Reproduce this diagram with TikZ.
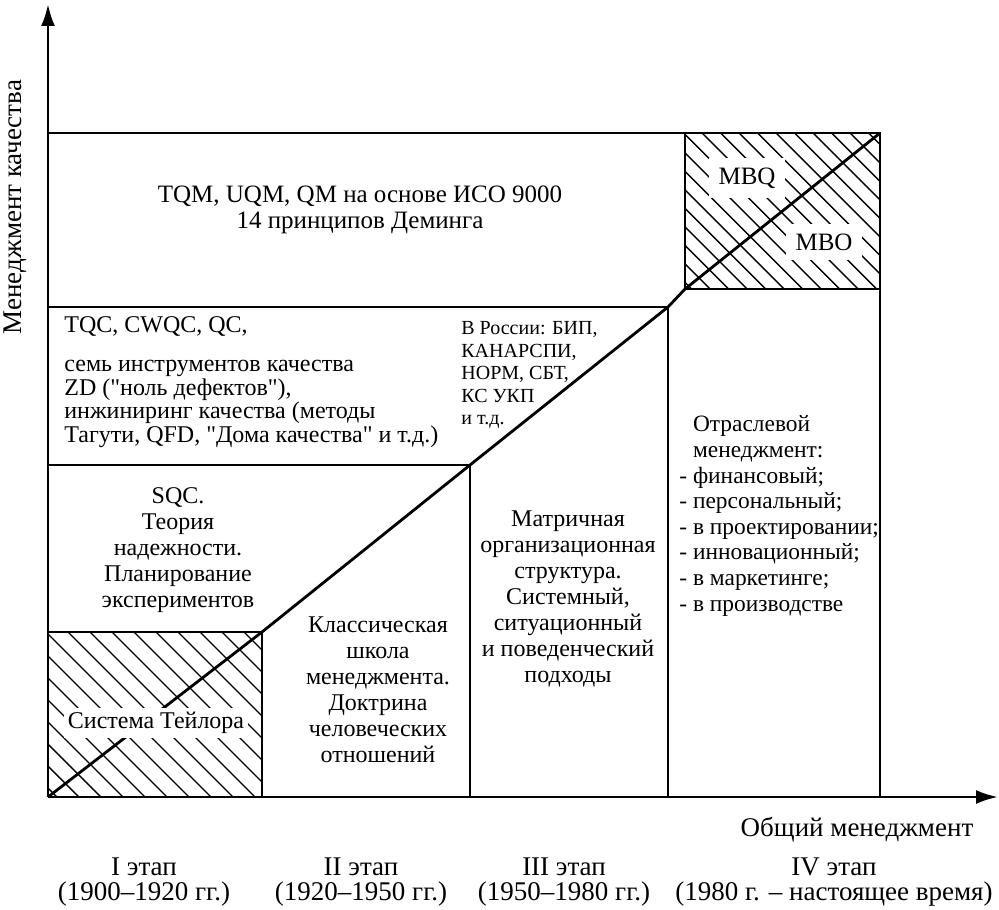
\documentclass[tikz,border=0pt]{standalone}
\usepackage{fontspec}
\setmainfont{Liberation Serif}[Ligatures = TeXOff]
\usetikzlibrary{arrows.meta}

\begin{document}
\begin{tikzpicture}[x = 0.5pt, y = -0.5pt, line width = 1.4pt,
    every node/.style = {inner sep = 0pt},
    col/.style = {align = center, font = \fontsize{12}{13}\selectfont},
    lst/.style = {align = left, anchor = west, font = \fontsize{12}{12}\selectfont},
    axlbl/.style = {align = center, font = \fontsize{13.5}{12.6}\selectfont},
    hatch/.style = {line width = 0.7pt},
    gap/.style = {fill = white, inner sep = 4pt},
    tip/.style = {-{Latex[length = 11pt, width = 7pt]}}]
    \useasboundingbox (0,0) rectangle (999,909);
    \coordinate (O) at (48,797);
    \coordinate (Y) at (48,4);
    \coordinate (X) at (998,797);
    \coordinate (A) at (262,632);
    \coordinate (B) at (470,465);
    \coordinate (C) at (668,307);
    \coordinate (D) at (685,289);
    \coordinate (E) at (880,133);
    \begin{scope}
      \clip (48,632) rectangle (A |- O);
      \foreach \s in {-152,-130,...,262}
        \draw [hatch] (\s,632) -- ++(165,165);
    \end{scope}
    \begin{scope}
      \clip (685,133) rectangle (E |- D);
      \foreach \s in {517,535.5,...,880}
        \draw [hatch] (\s,133) -- ++(156,156);
    \end{scope}
    \draw (48,133) -- (E) -- (E |- O);
    \draw (D |- E) -- (D) -- (E |- D);
    \draw (48,307) -- (C) -- (C |- O);
    \draw (48,465) -- (B) -- (B |- O);
    \draw (48,632) -- (A) -- (A |- O);
    \draw (O) -- (A) -- (B) -- (C) -- (D) -- (E);
    \draw [tip] (O) -- (Y);
    \draw [tip] (O) -- (X);
    \node (taylor) [gap, font = \fontsize{12}{12}\selectfont, inner sep = 2pt]
      at (156,723) {Система Тейлора};
    \node (mbq) [gap, font = \fontsize{12.5}{12}\selectfont, inner sep = 5pt] at (747,178) {MBQ};
    \node (mbo) [gap, font = \fontsize{12.5}{12}\selectfont, inner sep = 5pt] at (824,242) {MBO};
    \node (tqm) [col, font = \fontsize{12.5}{13}\selectfont] at (360,210)
      {TQM, UQM, QM на основе ИСО 9000\\14 принципов Деминга};
    \node (tqc) [lst, font = \fontsize{12}{11.7}\selectfont] at (63,382)
      {TQC, CWQC, QC,\\[8pt]
       семь инструментов качества\\
       ZD ("ноль дефектов"),\\
       инжиниринг качества (методы\\
       Тагути, QFD, "Дома качества" и т.д.)};
    \node (russia) [lst, font = \fontsize{10}{11.3}\selectfont] at (460,375)
      {В России: БИП,\\КАНАРСПИ,\\НОРМ, СБТ,\\КС УКП\\и т.д.};
    \node (sqc) [col] at (178,550)
      {SQC.\\Теория\\надежности.\\Планирование\\экспериментов};
    \node (classic) [col] at (378,690)
      {Классическая\\школа\\менеджмента.\\Доктрина\\человеческих\\отношений};
    \node (matrix) [col] at (568,599)
      {Матричная\\организационная\\структура.\\Системный,\\ситуационный\\и поведенческий\\подходы};
    \node (branch) [lst, font = \fontsize{11.7}{12.8}\selectfont] at (678,516)
      {\hphantom{- }Отраслевой\\\hphantom{- }менеджмент:\\- финансовый;\\- персональный;\\
       - в проектировании;\\- инновационный;\\- в маркетинге;\\- в производстве};
    \node (qlabel) [axlbl, rotate = 90] at (15,207) {Менеджмент качества};
    \node (mlabel) [axlbl] at (857,830) {Общий менеджмент};
    \node (stage1) [axlbl] at (144,882) {I этап\\(1900–1920 гг.)};
    \node (stage2) [axlbl] at (361,882) {II этап\\(1920–1950 гг.)};
    \node (stage3) [axlbl] at (564,882) {III этап\\(1950–1980 гг.)};
    \node (stage4) [axlbl] at (834,882) {IV этап\\(1980 г. – настоящее время)};
  \end{tikzpicture}
\end{document}
